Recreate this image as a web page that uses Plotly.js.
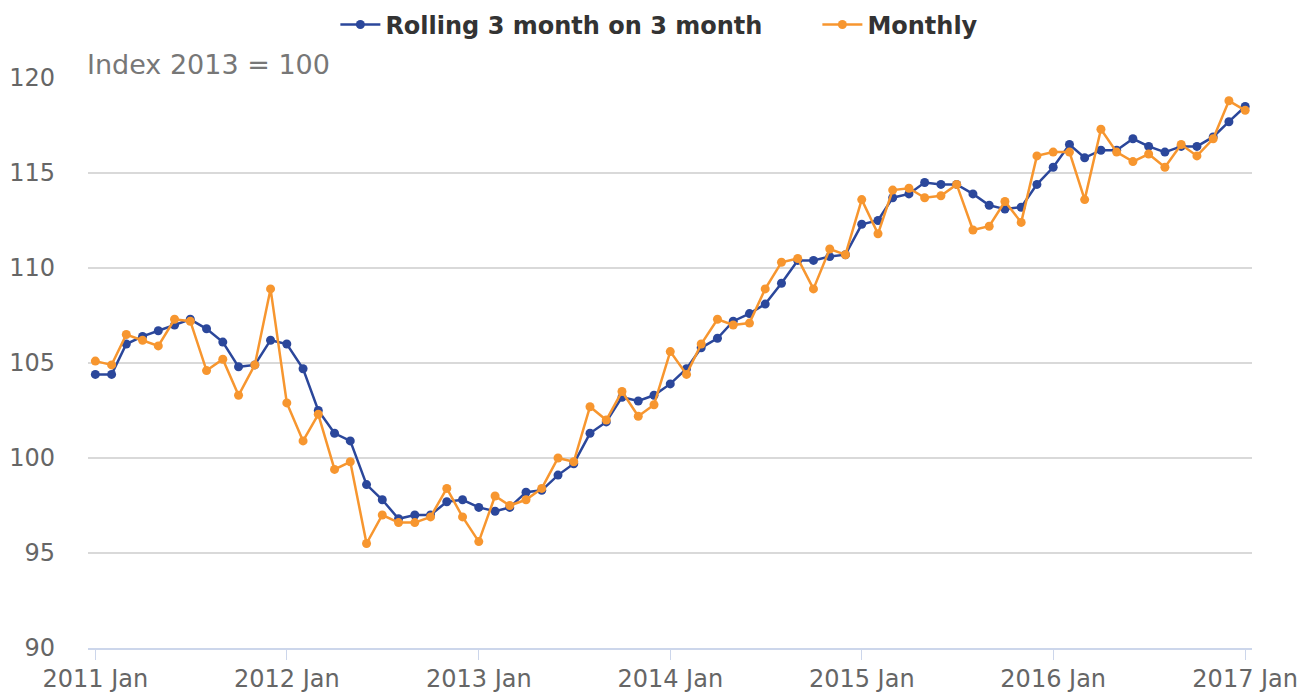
<!DOCTYPE html>
<html>
<head>
<meta charset="utf-8">
<script src="https://cdn.plot.ly/plotly-3.0.1.min.js"></script>
<style>
  html, body { margin: 0; padding: 0; background: #ffffff; }
  #chart { width: 1312px; height: 693px; }
</style>
</head>
<body>
<div id="chart"></div>
<script>
// Monthly periods: 2011 Jan .. 2017 Jan
var startYear = 2011;
var monthCount = 73;

var rolling = [
  104.4, 104.4, 106.0, 106.4, 106.7, 107.0, 107.3, 106.8, 106.1, 104.8, 104.9, 106.2,
  106.0, 104.7, 102.5, 101.3, 100.9, 98.6, 97.8, 96.8, 97.0, 97.0, 97.7, 97.8,
  97.4, 97.2, 97.4, 98.2, 98.3, 99.1, 99.7, 101.3, 101.9, 103.2, 103.0, 103.3,
  103.9, 104.7, 105.8, 106.3, 107.2, 107.6, 108.1, 109.2, 110.4, 110.4, 110.6, 110.7,
  112.3, 112.5, 113.7, 113.9, 114.5, 114.4, 114.4, 113.9, 113.3, 113.1, 113.2, 114.4,
  115.3, 116.5, 115.8, 116.2, 116.2, 116.8, 116.4, 116.1, 116.4, 116.4, 116.9, 117.7,
  118.5
];

var monthly = [
  105.1, 104.9, 106.5, 106.2, 105.9, 107.3, 107.2, 104.6, 105.2, 103.3, 104.9, 108.9,
  102.9, 100.9, 102.3, 99.4, 99.8, 95.5, 97.0, 96.6, 96.6, 96.9, 98.4, 96.9,
  95.6, 98.0, 97.5, 97.8, 98.4, 100.0, 99.8, 102.7, 102.0, 103.5, 102.2, 102.8,
  105.6, 104.4, 106.0, 107.3, 107.0, 107.1, 108.9, 110.3, 110.5, 108.9, 111.0, 110.7,
  113.6, 111.8, 114.1, 114.2, 113.7, 113.8, 114.4, 112.0, 112.2, 113.5, 112.4, 115.9,
  116.1, 116.1, 113.6, 117.3, 116.1, 115.6, 116.0, 115.3, 116.5, 115.9, 116.8, 118.8,
  118.3
];

var tickVals = ['2011-01-01', '2012-01-01', '2013-01-01', '2014-01-01', '2015-01-01', '2016-01-01', '2017-01-01'];
var tickText = ['2011 Jan', '2012 Jan', '2013 Jan', '2014 Jan', '2015 Jan', '2016 Jan', '2017 Jan'];
var seriesNames = ['Rolling 3 month on 3 month', 'Monthly'];
var subtitle = 'Index 2013 = 100';

var dates = [];
for (var i = 0; i < monthCount; i++) {
  var y = startYear + Math.floor(i / 12);
  var m = (i % 12) + 1;
  dates.push(y + '-' + (m < 10 ? '0' + m : m) + '-01');
}

var blue = '#2b479b';
var orange = '#f7962f';

var traces = [
  {
    x: dates, y: rolling, name: seriesNames[0], type: 'scatter', mode: 'lines+markers',
    line: { color: blue, width: 2.5 },
    marker: { color: blue, size: 9 }
  },
  {
    x: dates, y: monthly, name: seriesNames[1], type: 'scatter', mode: 'lines+markers',
    line: { color: orange, width: 2.5 },
    marker: { color: orange, size: 9 }
  }
];

var layout = {
  width: 1312, height: 693,
  margin: { l: 88, r: 60, t: 78, b: 45, autoexpand: false },
  paper_bgcolor: '#ffffff', plot_bgcolor: '#ffffff',
  font: { family: 'DejaVu Sans, sans-serif', color: '#666666', size: 24 },
  showlegend: true,
  legend: {
    orientation: 'h', xref: 'container', yref: 'container',
    x: 0.623, xanchor: 'center', y: 0.964, yanchor: 'middle',
    font: { family: 'DejaVu Sans, sans-serif', size: 24, color: '#333333', weight: 'bold' },
    itemwidth: 40, entrywidth: 427, entrywidthmode: 'pixels', tracegroupgap: 0
  },
  xaxis: {
    type: 'date',
    range: ['2010-12-18', '2017-01-14'],
    tickvals: tickVals, ticktext: tickText,
    showgrid: false, zeroline: false,
    showline: true, linecolor: '#ccd6eb', linewidth: 2,
    ticks: 'outside', ticklen: 10, tickwidth: 1, tickcolor: '#ccd6eb',
    ticklabelstandoff: -2,
    tickfont: { size: 24, color: '#666666' },
    fixedrange: true
  },
  yaxis: {
    range: [90, 120],
    tickvals: [90, 95, 100, 105, 110, 115, 120],
    showgrid: true, gridcolor: '#d9d9d9', gridwidth: 2,
    zeroline: false, showline: false,
    ticks: '', ticklabelstandoff: 32,
    tickfont: { size: 24, color: '#666666' },
    fixedrange: true
  },
  annotations: [
    {
      text: subtitle, xref: 'paper', yref: 'paper', x: 0, y: 1,
      xanchor: 'left', yanchor: 'bottom', yshift: -4, xshift: -3, showarrow: false,
      font: { family: 'DejaVu Sans, sans-serif', size: 27, color: '#777777' }
    }
  ]
};

Plotly.newPlot('chart', traces, layout, { displayModeBar: false, staticPlot: true });
</script>
</body>
</html>
